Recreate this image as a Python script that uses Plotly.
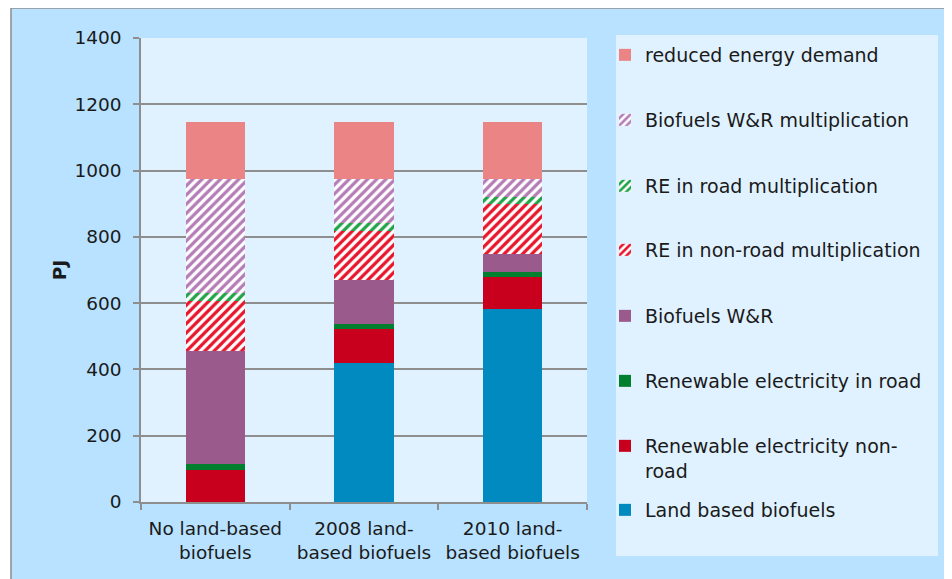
import plotly.graph_objects as go

categories = ["No land-based<br>biofuels", "2008 land-<br>based biofuels", "2010 land-<br>based biofuels"]
tick_values = [0, 200, 400, 600, 800, 1000, 1200, 1400]

land_based = [0, 420, 581]
re_nonroad = [98, 101, 99]
re_road = [16, 15, 15]
biofuels_wr = [342, 133, 52]
re_nonroad_mult = [150, 149, 151]
re_road_mult = [24, 23, 23]
biofuels_wr_mult = [345, 134, 54]
reduced_demand = [171, 171, 171]

# figure size (page has an 8px body margin)
W, H = 944, 571
L, R, T, B = 133, 579, 30, 494


def px(x):
    return (x - L) / (R - L)


def py(y):
    return (B - y) / (B - T)


FONT = "DejaVu Sans"
FS = 18.5
LFS = 19
TXT = "#1a1a1a"
GRID = "#8e8e8e"

# name, values, colour, pattern, legend top (px)
series = [
    ("Land based biofuels", land_based, "#008abf", None, 483),
    ("Renewable electricity non-<br>road", re_nonroad, "#c8001e", None, 419),
    ("Renewable electricity in road", re_road, "#00802f", None, 354),
    ("Biofuels W&R", biofuels_wr, "#9b5a8c", None, 289),
    ("RE in non-road multiplication", re_nonroad_mult, "#e8152b", "/", 223),
    ("RE in road multiplication", re_road_mult, "#1fa345", "/", 159),
    ("Biofuels W&R multiplication", biofuels_wr_mult, "#b57cb6", "/", 93),
    ("reduced energy demand", reduced_demand, "#eb8585", None, 28),
]

fig = go.Figure()
legends = {}
for i, (name, vals, color, shape, ltop) in enumerate(series):
    lg = "legend" if i == 0 else f"legend{i + 1}"
    marker = dict(color=color, line=dict(width=0))
    if shape:
        marker["pattern"] = dict(shape=shape, size=6.5, solidity=0.5,
                                 fgcolor=color, bgcolor="white", fillmode="replace")
    fig.add_trace(go.Bar(x=categories, y=vals, name=name, marker=marker, legend=lg))
    legends[lg] = dict(
        xref="container", yref="container", x=597 / W, y=1 - ltop / H,
        xanchor="left", yanchor="top", valign="top",
        bgcolor="rgba(0,0,0,0)", borderwidth=0,
        font=dict(family=FONT, size=LFS, color=TXT),
    )

shapes = [
    dict(type="rect", xref="paper", yref="paper", x0=px(-5), x1=px(2.5), y0=py(-5), y1=py(H + 5),
         fillcolor="white", line=dict(width=0), layer="below"),
    dict(type="line", xref="paper", yref="paper", x0=px(3), x1=px(W + 5), y0=py(0), y1=py(0),
         line=dict(color=GRID, width=1.5)),
    dict(type="line", xref="paper", yref="paper", x0=px(3), x1=px(3), y0=py(0), y1=py(H + 5),
         line=dict(color=GRID, width=1.5)),
    # legend box
    dict(type="rect", xref="paper", yref="paper", x0=px(608), x1=px(930), y0=py(27), y1=py(548),
         fillcolor="#e0f2ff", line=dict(width=0), layer="below"),
]

fig.update_layout(
    width=W, height=H,
    margin=dict(l=L, r=W - R, t=T, b=H - B, pad=0),
    paper_bgcolor="#b8e2ff",
    plot_bgcolor="#e0f2ff",
    barmode="stack",
    bargap=0.6,
    font=dict(family=FONT, size=FS, color=TXT),
    shapes=shapes,
    showlegend=True,
    xaxis=dict(
        type="category", showgrid=False, showline=True, linecolor=GRID, linewidth=1.5,
        ticks="outside", ticklen=6, tickcolor=GRID, tickwidth=1.5, tickson="boundaries",
        ticklabelstandoff=9,
        tickfont=dict(family=FONT, size=FS, color=TXT), automargin=False,
    ),
    yaxis=dict(
        range=[0, 1400], tickvals=tick_values, showgrid=True, gridcolor=GRID, gridwidth=1.5,
        showline=True, linecolor=GRID, linewidth=1.5, zeroline=False,
        ticks="outside", ticklen=6, tickcolor=GRID, tickwidth=1.5,
        ticklabelstandoff=8,
        tickfont=dict(family=FONT, size=FS, color=TXT), automargin=False,
        title=dict(text="PJ", standoff=3, font=dict(family=FONT, size=FS, color=TXT, weight="bold")),
    ),
    **legends,
)

fig.write_html("out.html")
